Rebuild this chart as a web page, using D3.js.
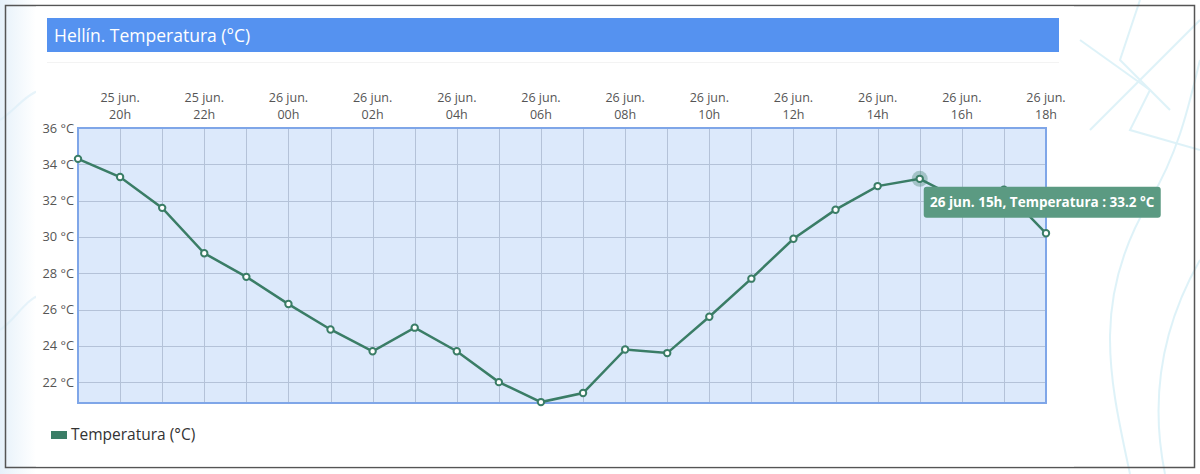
<!DOCTYPE html>
<html><head><meta charset="utf-8">
<script src="https://cdn.jsdelivr.net/npm/d3@7"></script>
<style>
html,body{margin:0;padding:0;background:#fff;}
svg{display:block;font-family:"Open Sans",sans-serif;}
</style></head>
<body><svg id="c" width="1200" height="474"></svg>
<script>
const title = "Hellín. Temperatura (°C)";
const seriesName = "Temperatura (°C)";
const hours = ["19h","20h","21h","22h","23h","00h","01h","02h","03h","04h","05h","06h","07h","08h","09h","10h","11h","12h","13h","14h","15h","16h","17h","18h"];
const days = ["25 jun.","25 jun.","25 jun.","25 jun.","25 jun.","26 jun.","26 jun.","26 jun.","26 jun.","26 jun.","26 jun.","26 jun.","26 jun.","26 jun.","26 jun.","26 jun.","26 jun.","26 jun.","26 jun.","26 jun.","26 jun.","26 jun.","26 jun.","26 jun."];
const temps = [34.3,33.3,31.6,29.1,27.8,26.3,24.9,23.7,25.0,23.7,22.0,20.9,21.4,23.8,23.6,25.6,27.7,29.9,31.5,32.8,33.2,32.0,32.6,30.2];
const yTicks = [22,24,26,28,30,32,34,36];
const highlight = 20;

const svg = d3.select("#c");
const defs = svg.append("defs");
const g1 = defs.append("linearGradient").attr("id","bgl").attr("x1",0).attr("x2",1);
g1.append("stop").attr("offset",0).attr("stop-color","#e6f1fa");
g1.append("stop").attr("offset",1).attr("stop-color","#ffffff");
svg.append("rect").attr("width",1200).attr("height",474).attr("fill","#fff");
svg.append("rect").attr("x",0).attr("y",0).attr("width",36).attr("height",474).attr("fill","url(#bgl)");
const deco = svg.append("g").attr("fill","none").attr("stroke","#c9ebf5").attr("stroke-width",2).attr("opacity",0.6);
deco.append("path").attr("d","M1130,474 C1110,380 1090,300 1150,200 C1180,150 1190,100 1200,60");
deco.append("path").attr("d","M1165,474 C1150,400 1160,330 1200,260");
deco.append("path").attr("d","M1080,40 L1150,90 L1130,130 L1200,150");
deco.append("path").attr("d","M1090,130 L1200,20");
deco.append("path").attr("d","M1140,0 L1120,60 L1170,110");
deco.append("path").attr("d","M0,120 C15,110 25,95 40,90").attr("stroke","#d8edf7");
deco.append("path").attr("d","M0,330 C15,320 25,300 40,295").attr("stroke","#d8edf7");

svg.append("rect").attr("x",5.5).attr("y",5.5).attr("width",1189).attr("height",462)
  .attr("fill","none").attr("stroke","#555").attr("stroke-width",1.5);
svg.append("rect").attr("x",36).attr("y",6.5).attr("width",1038).attr("height",460).attr("fill","#fff");

svg.append("rect").attr("x",47).attr("y",18).attr("width",1012).attr("height",34).attr("fill","#5592f0");
svg.append("text").attr("x",54).attr("y",41.5).attr("fill","#fff").attr("font-size",17.5).text(title);
svg.append("line").attr("x1",47).attr("x2",1059).attr("y1",62.5).attr("y2",62.5).attr("stroke","#f3f3f3");

const x = d3.scalePoint().domain(d3.range(hours.length)).range([78,1046]);
const y = d3.scaleLinear().domain([20.85,36]).range([403,128]);

svg.append("rect").attr("x",78).attr("y",128).attr("width",968).attr("height",275).attr("fill","#dce9fb");
const grid = svg.append("g").attr("stroke","#b4c2d8").attr("stroke-width",1);
grid.selectAll(".v").data(d3.range(1,hours.length-1)).join("line")
  .attr("x1",d=>Math.round(x(d))+0.5).attr("x2",d=>Math.round(x(d))+0.5).attr("y1",128).attr("y2",403);
grid.selectAll(".h").data(yTicks.slice(0,-1)).join("line")
  .attr("x1",78).attr("x2",1046).attr("y1",d=>Math.round(y(d))+0.5).attr("y2",d=>Math.round(y(d))+0.5);
svg.append("rect").attr("x",78).attr("y",128).attr("width",968).attr("height",275)
  .attr("fill","none").attr("stroke","#7fa6e8").attr("stroke-width",2);

svg.append("g").selectAll("text").data(yTicks).join("text")
  .attr("x",74).attr("y",d=>y(d)+4.5).attr("text-anchor","end").attr("font-size",12.8).attr("fill","#555")
  .text(d=>d+" °C");
const xl = svg.append("g").selectAll("g").data(d3.range(1,hours.length,2)).join("g")
  .attr("transform",d=>`translate(${x(d)},0)`);
xl.append("text").attr("y",102).attr("text-anchor","middle").attr("font-size",12.5).attr("fill","#555").text(d=>days[d]);
xl.append("text").attr("y",119).attr("text-anchor","middle").attr("font-size",12.5).attr("fill","#555").text(d=>hours[d]);

const line = d3.line().x((d,i)=>x(i)).y(d=>y(d));
svg.append("path").datum(temps).attr("d",line).attr("fill","none").attr("stroke","#3a7d66").attr("stroke-width",2.5);
svg.append("circle").attr("cx",x(highlight)).attr("cy",y(temps[highlight])).attr("r",8).attr("fill","#3a7d66").attr("opacity",0.35);
svg.append("g").selectAll("circle").data(temps).join("circle")
  .attr("cx",(d,i)=>x(i)).attr("cy",d=>y(d)).attr("r",3.2)
  .attr("fill","#fff").attr("stroke","#3a7d66").attr("stroke-width",2);

const tx = x(highlight)+4, ty = y(temps[highlight])+8;
svg.append("rect").attr("x",tx).attr("y",ty).attr("width",237).attr("height",31).attr("rx",3)
  .attr("fill","#5b9a82");
svg.append("text").attr("x",tx+118.5).attr("y",ty+20.5).attr("text-anchor","middle").attr("font-size",13.5)
  .attr("font-weight","bold").attr("fill","#fff")
  .text(`${days[highlight]} ${hours[highlight]}, Temperatura : ${temps[highlight]} °C`);

svg.append("rect").attr("x",51).attr("y",431).attr("width",16).attr("height",8).attr("fill","#3a7d66");
svg.append("text").attr("x",71).attr("y",440).attr("font-size",15.5).attr("fill","#333").text(seriesName);
</script></body></html>
